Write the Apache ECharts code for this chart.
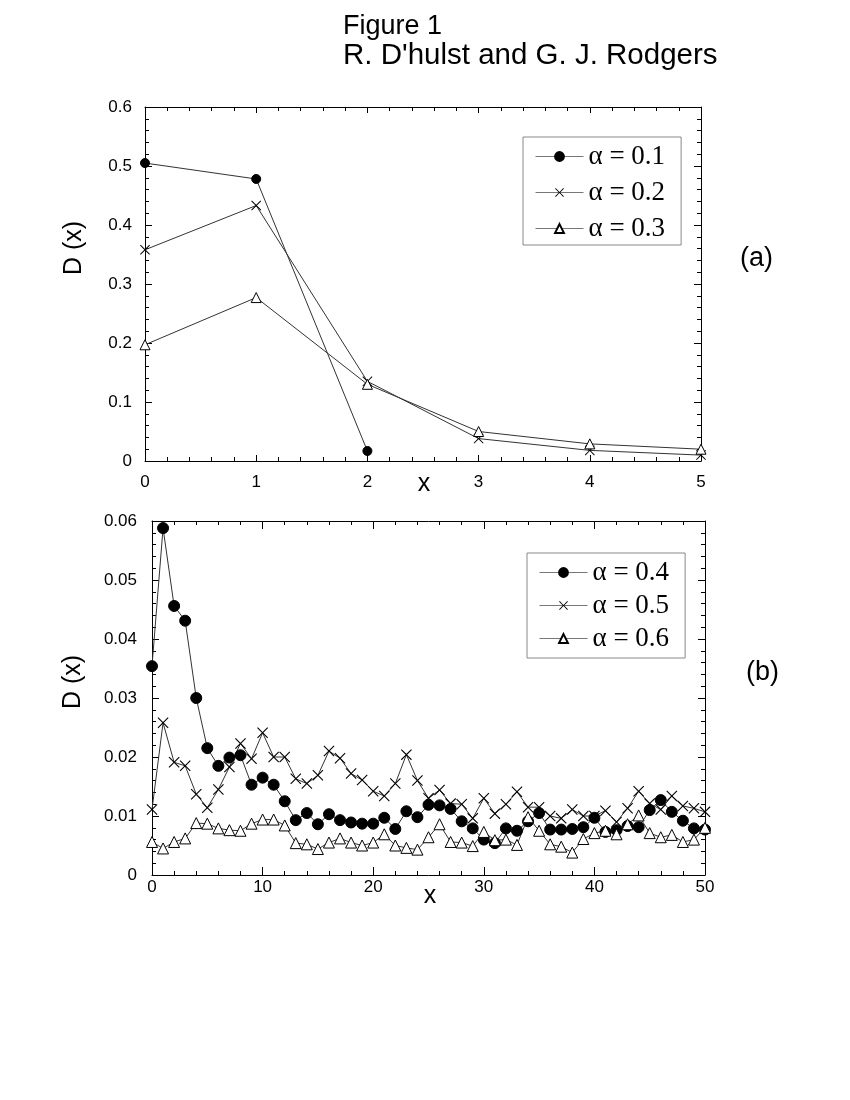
<!DOCTYPE html>
<html><head><meta charset="utf-8">
<script src="https://cdn.jsdelivr.net/npm/echarts@6/dist/echarts.min.js"></script>
<style>html,body{margin:0;padding:0;background:#fff}#c{width:850px;height:1100px}</style>
</head><body><div id="c"></div>
<script>
// ---- Panel (a) data ----
const xA = [0, 1, 2, 3, 4, 5];
const a01 = [0.505, 0.478, 0.017];
const a02 = [0.358, 0.433, 0.135, 0.038, 0.018, 0.010];
const a03 = [0.197, 0.277, 0.130, 0.050, 0.029, 0.020];

// ---- Panel (b) data ----
const xB = [0,1,2,3,4,5,6,7,8,9,10,11,12,13,14,15,16,17,18,19,20,21,22,23,24,25,26,27,28,29,30,31,32,33,34,35,36,37,38,39,40,41,42,43,44,45,46,47,48,49,50];
const a04 = [0.0354,0.0588,0.0456,0.0431,0.0300,0.0215,0.0185,0.0199,0.0203,0.0153,
             0.0165,0.0153,0.0125,0.0093,0.0105,0.0086,0.0103,0.0093,0.0089,0.0087,
             0.0087,0.0097,0.0078,0.0108,0.0098,0.0119,0.0118,0.0112,0.0091,0.0079,
             0.0060,0.0054,0.0079,0.0075,0.0091,0.0105,0.0077,0.0077,0.0078,0.0081,
             0.0097,0.0073,0.0076,0.0083,0.0081,0.0110,0.0127,0.0107,0.0092,0.0079,0.0077];
const a05 = [0.0111,0.0258,0.0191,0.0185,0.0137,0.0114,0.0145,0.0183,0.0223,0.0197,
             0.0241,0.0200,0.0200,0.0163,0.0155,0.0169,0.0210,0.0198,0.0172,0.0161,
             0.0142,0.0134,0.0155,0.0204,0.0160,0.0130,0.0144,0.0121,0.0120,0.0096,
             0.0130,0.0104,0.0120,0.0141,0.0115,0.0115,0.0100,0.0096,0.0111,0.0100,
             0.0100,0.0109,0.0090,0.0113,0.0142,0.0121,0.0111,0.0134,0.0117,0.0113,0.0107];
const a06 = [0.0056,0.0045,0.0056,0.0062,0.0088,0.0087,0.0079,0.0076,0.0075,0.0087,
             0.0094,0.0094,0.0084,0.0054,0.0052,0.0044,0.0055,0.0062,0.0055,0.0050,
             0.0055,0.0069,0.0050,0.0046,0.0043,0.0064,0.0086,0.0056,0.0055,0.0049,
             0.0073,0.0059,0.0060,0.0051,0.0098,0.0075,0.0052,0.0048,0.0038,0.0061,
             0.0071,0.0075,0.0069,0.0086,0.0101,0.0071,0.0064,0.0068,0.0056,0.0060,0.0080];

const namesA = ['α = 0.1', 'α = 0.2', 'α = 0.3'];
const namesB = ['α = 0.4', 'α = 0.5', 'α = 0.6'];
const titleLines = ['Figure 1', "R. D'hulst and G. J. Rodgers"];
const panelLabels = ['(a)', '(b)'];
const yName = 'D (x)';
const xName = 'x';

const pairs = (xs, ys) => ys.map((y, i) => [xs[i], y]);
const SANS = '"Liberation Sans", Arial, Helvetica, sans-serif';
const SERIF = '"Liberation Serif", "Times New Roman", serif';
const CROSS = 'path://M0,0.7L0.7,0L5,4.3L9.3,0L10,0.7L5.7,5L10,9.3L9.3,10L5,5.7L0.7,10L0,9.3L4.3,5Z';

function xAxisOf(gi, min, max, interval, show, margin, tickLen) {
  return {
    type: 'value', gridIndex: gi, min: min, max: max, interval: interval,
    position: show ? 'bottom' : 'top',
    axisLine: { show: true, onZero: false, lineStyle: { color: '#000', width: 1 } },
    axisTick: { show: true, inside: true, length: tickLen, lineStyle: { color: '#000' } },
    minorTick: { show: true, splitNumber: 5, length: 4, lineStyle: { color: '#000' } },
    splitLine: { show: false },
    axisLabel: show ? { show: true, color: '#000', fontFamily: SANS, fontSize: 17, margin: margin } : { show: false }
  };
}
function yAxisOf(gi, min, max, interval, show, margin) {
  return {
    type: 'value', gridIndex: gi, min: min, max: max, interval: interval,
    position: show ? 'left' : 'right',
    axisLine: { show: true, onZero: false, lineStyle: { color: '#000', width: 1 } },
    axisTick: { show: true, inside: true, length: 7, lineStyle: { color: '#000' } },
    minorTick: { show: true, splitNumber: 5, length: 4, lineStyle: { color: '#000' } },
    splitLine: { show: false },
    axisLabel: show ? { show: true, color: '#000', fontFamily: SANS, fontSize: 17, margin: margin } : { show: false }
  };
}
function lineSeries(name, data, xi, yi, symbol, size) {
  const isCross = symbol === CROSS;
  return {
    name: name, type: 'line', xAxisIndex: xi, yAxisIndex: yi, data: data,
    symbol: symbol, symbolSize: size, showSymbol: true, animation: false,
    lineStyle: { color: '#333', width: 1 },
    itemStyle: symbol === 'triangle'
      ? { color: '#fff', borderColor: '#000', borderWidth: 1 }
      : { color: '#000', borderColor: '#000', borderWidth: isCross ? 0 : 1 }
  };
}
function txt(x, y, text, size, extra) {
  return Object.assign({ type: 'text', x: x, y: y,
    style: Object.assign({ text: text, fill: '#000', font: size + 'px ' + SANS, verticalAlign: 'middle' }, (extra && extra.style) || {}) },
    extra && extra.rotation ? { rotation: extra.rotation } : {});
}

const legendCommon = {
  orient: 'vertical', itemWidth: 48, itemHeight: 11,
  borderColor: '#888', borderWidth: 1, backgroundColor: '#fff',
  textStyle: { color: '#000', fontFamily: SERIF, fontSize: 27 },
  lineStyle: { color: '#777', width: 1 }
};

const chart = echarts.init(document.getElementById('c'), null, { renderer: 'canvas' });
chart.setOption({
  backgroundColor: '#fff',
  animation: false,
  graphic: [
    txt(343, 27, titleLines[0], 27),
    txt(343, 56, titleLines[1], 29.5),
    txt(740, 259, panelLabels[0], 27),
    txt(746, 673, panelLabels[1], 27),
    txt(74, 248, yName, 25, { rotation: Math.PI / 2, style: { align: 'center' } }),
    txt(73, 682, yName, 25, { rotation: Math.PI / 2, style: { align: 'center' } }),
    txt(424, 484, xName, 25, { style: { align: 'center' } }),
    txt(430, 896, xName, 25, { style: { align: 'center' } })
  ],
  grid: [
    { left: 145, top: 107, width: 556, height: 354 },
    { left: 152, top: 521, width: 553, height: 354 }
  ],
  xAxis: [
    xAxisOf(0, 0, 5, 1, true, 13, 6),
    xAxisOf(0, 0, 5, 1, false, 0, 6),
    xAxisOf(1, 0, 50, 10, true, 4, 8),
    xAxisOf(1, 0, 50, 10, false, 0, 8)
  ],
  yAxis: [
    yAxisOf(0, 0, 0.6, 0.1, true, 13),
    yAxisOf(0, 0, 0.6, 0.1, false, 0),
    yAxisOf(1, 0, 0.06, 0.01, true, 15),
    yAxisOf(1, 0, 0.06, 0.01, false, 0)
  ],
  legend: [
    Object.assign({}, legendCommon, { data: namesA, left: 523, top: 137, itemGap: 9, padding: [6, 16, 3, 12] }),
    Object.assign({}, legendCommon, { data: namesB, left: 527, top: 553, itemGap: 6, padding: [6, 16, 6, 12] })
  ],
  series: [
    lineSeries(namesA[0], pairs(xA, a01), 0, 0, 'circle', 9),
    lineSeries(namesA[1], pairs(xA, a02), 0, 0, CROSS, 10),
    lineSeries(namesA[2], pairs(xA, a03), 0, 0, 'triangle', 10),
    lineSeries(namesB[0], pairs(xB, a04), 2, 2, 'circle', 11),
    lineSeries(namesB[1], pairs(xB, a05), 2, 2, CROSS, 11),
    lineSeries(namesB[2], pairs(xB, a06), 2, 2, 'triangle', 11)
  ]
});
</script></body></html>
